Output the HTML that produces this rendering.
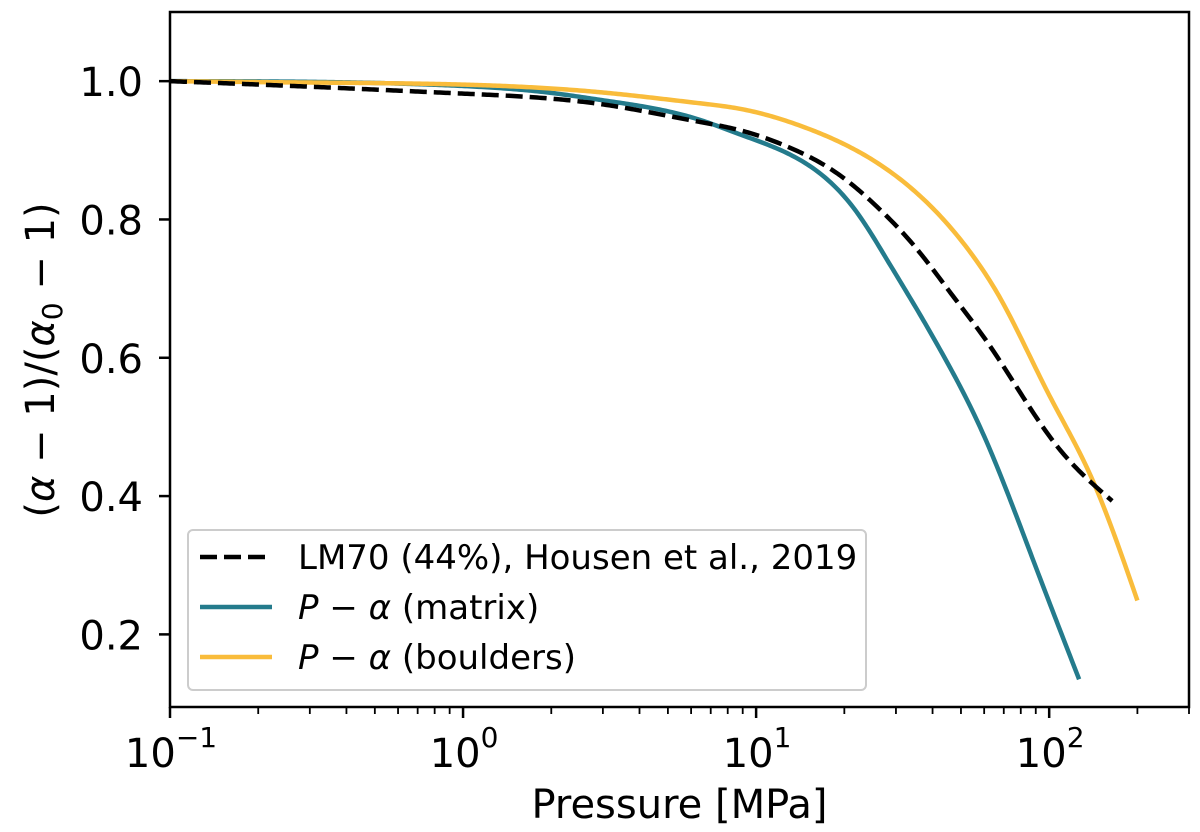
<!DOCTYPE html>
<html><head><meta charset="utf-8"><style>
body{margin:0;background:#fff}
svg{display:block;font-family:"DejaVu Sans","Liberation Sans",sans-serif}
</style></head><body>
<svg id="chart" width="1200" height="832">
<g id="g"></g>
</svg>
<script>
const blackP=[0.1,0.3,1,2.93,6.43,8.81,13.0,19.3,26.5,35.4,47.0,61.4,106,164];
const blackV=[1.0,0.992,0.982,0.967,0.941,0.929,0.904,0.864,0.814,0.757,0.689,0.623,0.473,0.393];
const tealP=[0.1,0.3,1,2,2.93,6.43,8.81,14.9,22.1,28.6,37.1,42.4,59.2,87.5,126.5];
const tealV=[1.0,0.999,0.993,0.983,0.973,0.944,0.923,0.88,0.81,0.735,0.655,0.612,0.492,0.311,0.135];
const yelP=[0.1,0.3,1,2.93,6.43,8.81,14.9,25.0,37.1,55.0,67.9,100,141,200];
const yelV=[1.0,0.998,0.995,0.984,0.968,0.960,0.932,0.886,0.830,0.747,0.687,0.546,0.422,0.249];
const yTicks=[0.2,0.4,0.6,0.8,1.0];
const xTickExp=[-1,0,1,2];
const L=170,R=1189,T=12,B=707;
const xmin=Math.log10(0.1),xmax=Math.log10(300),ymin=0.095,ymax=1.1;
const X=p=>L+(Math.log10(p)-xmin)/(xmax-xmin)*(R-L);
const Y=v=>B-(v-ymin)/(ymax-ymin)*(B-T);
const NS='http://www.w3.org/2000/svg';
const g=document.getElementById('g');
function el(t,a,parent){const e=document.createElementNS(NS,t);for(const k in a)e.setAttribute(k,a[k]);(parent||g).appendChild(e);return e;}
function path(P,V){
  const xs=P.map(X),ys=V.map(Y),n=xs.length;
  const h=[],al=[],l=[1],mu=[0],z=[0],c=new Array(n).fill(0),b=[],d=[];
  for(let i=0;i<n-1;i++)h[i]=xs[i+1]-xs[i];
  for(let i=1;i<n-1;i++)al[i]=3/h[i]*(ys[i+1]-ys[i])-3/h[i-1]*(ys[i]-ys[i-1]);
  for(let i=1;i<n-1;i++){l[i]=2*(xs[i+1]-xs[i-1])-h[i-1]*mu[i-1];mu[i]=h[i]/l[i];z[i]=(al[i]-h[i-1]*z[i-1])/l[i];}
  for(let j=n-2;j>=0;j--){c[j]=(j>0?z[j]:0)-(j>0?mu[j]:0)*c[j+1];b[j]=(ys[j+1]-ys[j])/h[j]-h[j]*(c[j+1]+2*c[j])/3;d[j]=(c[j+1]-c[j])/(3*h[j]);}
  let s='M'+xs[0]+','+ys[0];
  for(let j=0;j<n-1;j++){for(let x=xs[j]+2;x<xs[j+1];x+=2){const dx=x-xs[j];s+=' L'+x.toFixed(1)+','+(ys[j]+b[j]*dx+c[j]*dx*dx+d[j]*dx*dx*dx).toFixed(2);}s+=' L'+xs[j+1]+','+ys[j+1];}
  return s;}
let s=el('path',{d:path(tealP,tealV),fill:'none',stroke:'#247b8c','stroke-width':4.5,'stroke-linejoin':'round'});

s=el('path',{d:path(yelP,yelV),fill:'none',stroke:'#f9bc3b','stroke-width':4.5,'stroke-linejoin':'round'});

s=el('path',{d:path(blackP,blackV),fill:'none',stroke:'#000','stroke-width':4.5,'stroke-dasharray':'17,7'});

s=el('rect',{x:L,y:T,width:R-L,height:B-T,fill:'none',stroke:'#000','stroke-width':2.5});

yTicks.forEach(v=>{el('line',{x1:L-11,x2:L,y1:Y(v),y2:Y(v),stroke:'#000','stroke-width':2.5});
const t=el('text',{x:L-27,y:Y(v)+15,'font-size':40,'text-anchor':'end'});t.textContent=v.toFixed(1);
});
xTickExp.forEach(e=>{const x=X(Math.pow(10,e));el('line',{x1:x,x2:x,y1:B,y2:B+11,stroke:'#000','stroke-width':2.5});
const t=el('text',{x:x+1,y:767,'font-size':40,'text-anchor':'middle'});t.textContent='10';
const sup=el('tspan',{dy:-20,'font-size':28});sup.textContent=String(e).replace('-','−');t.appendChild(sup);

for(let m=2;m<=9;m++){const p=m*Math.pow(10,e);if(p>300)break;const xm=X(p);el('line',{x1:xm,x2:xm,y1:B,y2:B+7,stroke:'#000','stroke-width':1.8});}});
let t=el('text',{x:(L+R)/2,y:818,'font-size':40,'text-anchor':'middle'});t.textContent='Pressure [MPa]';

t=el('text',{x:0,y:0,'font-size':40,'text-anchor':'middle',transform:'translate(54,360) rotate(-90)'});
t.innerHTML='(<tspan font-style="italic">α</tspan> − 1)/(<tspan font-style="italic">α</tspan><tspan font-size="28" dy="8">0</tspan><tspan dy="-8"> − 1)</tspan>';

const lg=el('g',{});
el('rect',{x:188,y:530,width:678,height:160,rx:5,fill:'#fff','fill-opacity':0.8,stroke:'#ccc','stroke-width':2},lg);
const items=[['#000','17,7','LM70 (44%), Housen et al., 2019'],['#247b8c','','<tspan font-style="italic">P</tspan> − <tspan font-style="italic">α</tspan> (matrix)'],['#f9bc3b','','<tspan font-style="italic">P</tspan> − <tspan font-style="italic">α</tspan> (boulders)']];
items.forEach((it,i)=>{const y=557+i*50;const a={x1:200,x2:272,y1:y,y2:y,stroke:it[0],'stroke-width':4.5};if(it[1])a['stroke-dasharray']=it[1];
el('line',a,lg);const tx=el('text',{x:298,y:y+12,'font-size':34},lg);tx.innerHTML=it[2];
});
</script>
</body></html>
